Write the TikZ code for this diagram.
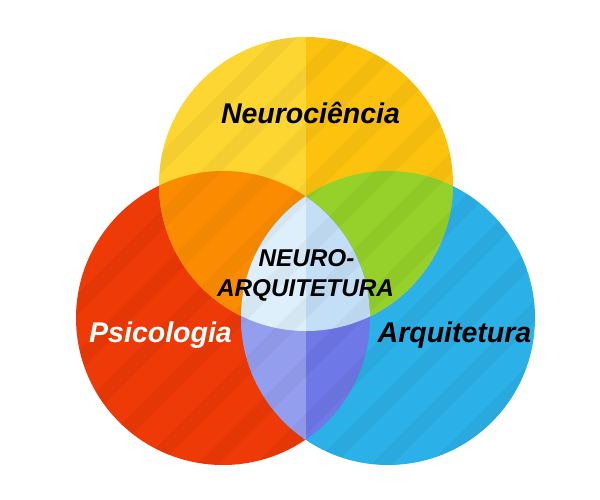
\documentclass[tikz,border=0pt]{standalone}
\usepackage{fontspec}
\setmainfont{Liberation Sans}
\definecolor{ylwL}{HTML}{FDD632}
\definecolor{ylwR}{HTML}{FCC20E}
\definecolor{orng}{HTML}{FB8C02}
\definecolor{grn}{HTML}{95D12A}
\definecolor{redc}{HTML}{EE3A06}
\definecolor{bluc}{HTML}{2CB0E8}
\definecolor{lensL}{HTML}{949EEF}
\definecolor{lensR}{HTML}{6E78E6}
\definecolor{cenL}{HTML}{DDEFFB}
\definecolor{cenR}{HTML}{C3DEF7}
\tikzset{
  lbl/.style={font=\fontsize{28.5}{30}\selectfont\bfseries\itshape, inner sep=0pt, anchor=base},
  clbl/.style={font=\fontsize{24.3}{30}\selectfont\bfseries\itshape, inner sep=0pt, anchor=base},
  stripe/.style={line width=15pt, black, opacity=0.035}
}
\begin{document}
\begin{tikzpicture}[x=1pt,y=-1pt]
\useasboundingbox (0,0) rectangle (600,500);
\fill[white] (0,0) rectangle (600,500);
\coordinate (cT) at (306,184);
\coordinate (cL) at (223,318);
\coordinate (cR) at (388,318);
\def\rad{147}
% base circles
\fill[redc] (cL) circle (\rad);
\fill[bluc] (cR) circle (\rad);
\begin{scope}
  \clip (cT) circle (\rad);
  \fill[ylwL] (100,0) rectangle (306,400);
  \fill[ylwR] (306,0) rectangle (500,400);
\end{scope}
% top & left / top & right
\begin{scope}
  \clip (cT) circle (\rad);
  \fill[orng] (cL) circle (\rad);
  \fill[grn] (cR) circle (\rad);
\end{scope}
% left & right, and the centre
\begin{scope}
  \clip (cL) circle (\rad);
  \clip (cR) circle (\rad);
  \fill[lensL] (200,150) rectangle (306,480);
  \fill[lensR] (306,150) rectangle (420,480);
  \clip (cT) circle (\rad);
  \fill[cenL] (200,150) rectangle (306,480);
  \fill[cenR] (306,150) rectangle (420,480);
\end{scope}
% stripes
\begin{scope}
  \clip (cT) circle (\rad) (cL) circle (\rad) (cR) circle (\rad);
  \foreach \k in {0,...,20} {
    \draw[stripe] ({\k*58-40},-100) -- ({\k*58-840},700);
  }
\end{scope}
% labels
\node[lbl] (neuro) at (310.5,124) {Neurociência};
\node[lbl, white] (psico) at (160.5,342) {Psicologia};
\node[lbl] (arqui) at (454.5,342) {Arquitetura};
\node[clbl] (na1) at (306.5,266) {NEURO-};
\node[clbl] (na2) at (305.5,296) {ARQUITETURA};
\end{tikzpicture}
\end{document}
